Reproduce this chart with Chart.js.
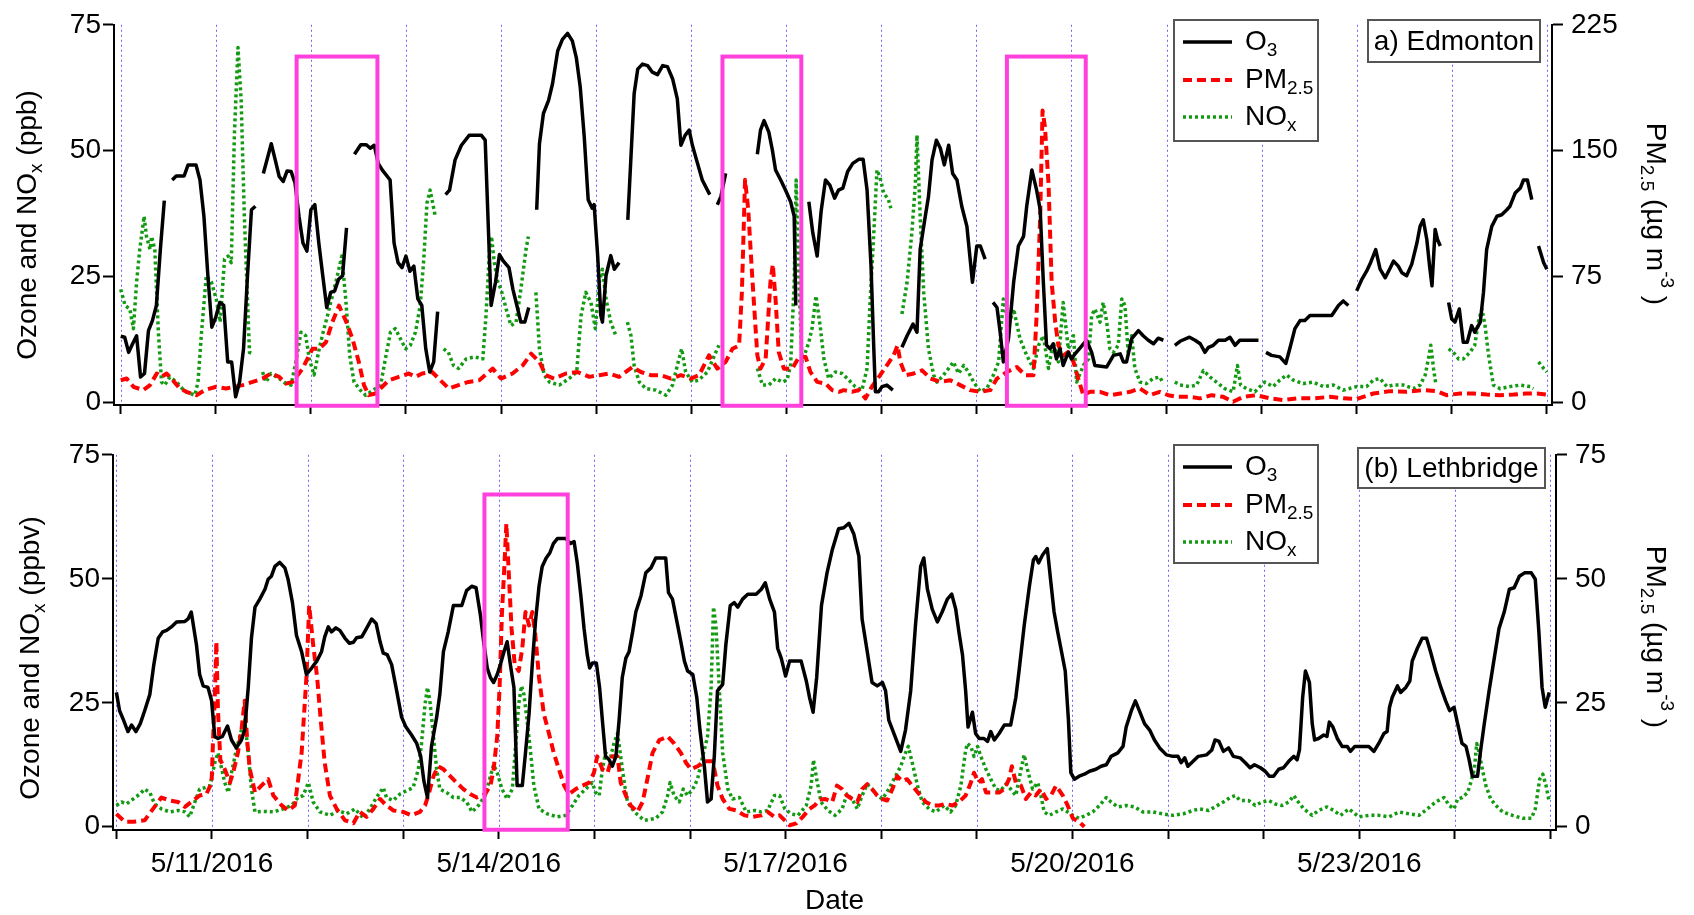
<!DOCTYPE html>
<html>
<head>
<meta charset="utf-8">
<script src="https://cdn.jsdelivr.net/npm/chart.js@4.4.0/dist/chart.umd.min.js"></script>
<style>
  body { margin: 0; background: #fff; }
  canvas { position: absolute; left: 0; }
  #top { top: 0; }
  #bottom { top: 430px; }
</style>
</head>
<body>
<canvas id="top" width="1694" height="430"></canvas>
<canvas id="bottom" width="1694" height="485"></canvas>
<script>
// hours since 5/10/2016 00:00
const dayTicks = [0, 24, 48, 72, 96, 120, 144, 168, 192, 216, 240, 264, 288, 312, 336, 360];
const dateLabels = { 24: '5/11/2016', 96: '5/14/2016', 168: '5/17/2016', 240: '5/20/2016', 312: '5/23/2016' };
const ppbTicks = [0, 25, 50, 75];
const pmTicksEdm = [0, 75, 150, 225];
const pmTicksLeth = [0, 25, 50, 75];

// highlighted periods (hours)
const highlightsEdm = [[44.4, 64.8], [151.9, 171.8], [223.7, 243.6]];
const highlightsLeth = [[92.4, 113.3]];

// a) Edmonton, [hour, value]; null = no data
const o3Edm = [
  [0,13.2],[1,13],[2,10],[3,11.7],[4,13.3],[5,5.1],[6,5.8],[7,14.3],[8,16.3],[9,19.3],[10,30.4],[11,40.1],[12,null],
  [13,44.2],[14,45],[16,45],[17,47.2],[19,47.2],[20,44.2],[21,37],[22,25.2],[23,15],[24,17],[25,19.9],[26,19.3],[27,8.1],[28,8.1],[29,1.2],[30,4.1],[31,10.7],[32,25.2],[33,38.3],[34,39],[35,null],
  [36,45.5],[38,51.4],[39,48.2],[40,44.9],[41,43.9],[42,46],[43,45.9],[44,43.6],[45,37],[46,31.7],[47,30.1],[48,38.3],[49,39.3],[50,31.7],[51,25.2],[52,18.9],[53,21.9],[54,22.2],[55,24.5],[56,25.2],[57,34.7],[58,null],
  [59,49.3],[60.6,51.2],[62,51.2],[63,50.5],[64,51.1],[65,47.5],[66,46.2],[68,44.2],[69,31.7],[70,27.8],[71,26.8],[72,29.1],[73,26.1],[74,27.1],[75,20.6],[76,19.3],[77,10.7],[78,6.1],[79,8.1],[80,18.1],[81,null],
  [82,41.3],[83,42.2],[84.4,48.2],[86,51.1],[88,53.1],[91,53.1],[92,52.1],[93,30.4],[93.5,19.3],[94.6,23.9],[95.6,29.4],[96.6,28.1],[98,26.8],[99,22.5],[100,19.3],[101,16],[102,16],[103,18.9],[104,null],
  [105,38.3],[105.7,51.4],[106.7,57.4],[108,60],[109,63.3],[110.3,69.8],[111.5,72.1],[112.8,73.3],[114,71.8],[115,68.5],[116,62.6],[117,52.8],[118,40.3],[119,38.6],[119.5,39.3],[120.4,29.1],[121.2,17.3],[121.6,16],[122.5,25.2],[123.7,29.2],[124.6,26.5],[125.8,27.8],[127,null],
  [128,36.3],[128.8,48.8],[129.6,61.3],[130.5,66.2],[131.7,67.2],[133,66.9],[134.2,65.6],[135.5,65.1],[136.8,66.9],[138,66.7],[139.3,64.3],[140.5,60.3],[141.4,51.1],[142.5,53.1],[143.5,54.1],[144.3,51.1],[145.6,47.5],[146.8,44.2],[148.1,42.2],[148.7,41.3],[149.5,null],
  [150.6,39.3],[151.5,40.9],[152.7,45.5],[153.5,null],
  [160.7,49.3],[161.5,54.1],[162.4,56],[163.6,53.7],[164.5,50.1],[165.3,46.2],[166.6,44.2],[167.8,42.2],[169.1,39.9],[170,37],[170.4,19.3],[171.5,null],
  [173.7,39.9],[174.7,33.7],[175.8,29.1],[176.8,38],[177.9,44.2],[179,43.2],[180.2,40.6],[181.2,42.2],[182.3,42.6],[183.5,45.9],[184.8,47.5],[186.3,48.3],[187.4,48.3],[188.4,42.2],[189.4,27.1],[190.1,10.7],[190.5,2.2],[191.3,2.2],[192.2,3.2],[193.4,3.5],[194.9,2.5],[196,null],
  [197.2,11],[198.5,13.3],[200,15.6],[201,14],[201.8,30.4],[203.1,37],[203.9,40.9],[204.8,48.2],[205.9,52.1],[206.9,50.5],[207.9,47.2],[209,51.1],[210,45.5],[211.1,44.2],[212.3,39],[213.6,35],[215,23.9],[216.1,31.1],[217,31.1],[218.2,28.5],[219,null],
  [220.2,19.9],[221.2,18.9],[222,14],[222.8,8.1],[224.1,12.7],[225.4,23.9],[226.6,31.1],[227.9,33],[228.7,39],[230,46.2],[231.2,42.2],[232.1,38.3],[232.9,23.9],[233.7,11.4],[234.6,10.7],[235.4,11.7],[236.2,8.7],[237.1,10.7],[237.9,7.4],[239.2,10],[240,8.7],[240.9,9.7],[242.3,11],[243.8,12.4],[245.1,10],[245.9,7.4],[248.9,7.1],[250.6,9.4],[252.3,9.7],[253.1,8.1],[253.9,8.1],[255.2,12.7],[256.9,14.3],[258.1,13.3],[259.4,12.4],[260.7,11.7],[261.9,12.8],[263.2,12.4],[264.5,null],
  [266.1,11.4],[267.4,12.2],[269.8,13],[271.2,12.4],[272.5,11.7],[273.7,10],[274.6,11],[275.8,11.4],[277.1,12.4],[278.8,12.4],[280,13],[281.3,11.4],[282.5,12.4],[287.2,12.4],[288.2,null],
  [289.1,10],[290.5,9.4],[292.6,9.1],[294.1,7.8],[295.2,11],[296.4,14.7],[297.7,16.3],[298.9,16.3],[300.2,17.3],[305.7,17.3],[307.4,19.3],[308.6,20.2],[309.9,19.3],[311,null],
  [312,22.2],[313.3,24.5],[314.5,26.1],[315.5,27.8],[316.8,30.4],[317.9,26.5],[319.2,24.8],[320.3,26.5],[321.3,28.1],[322.5,27.1],[323.4,25.8],[324.6,25.2],[325.9,27.5],[327.2,31.7],[328,35],[328.8,36.3],[329.7,32.4],[330.4,27.1],[331,23.2],[331.8,34.4],[332.4,32.4],[333.1,31.1],[334,null],
  [335.2,19.9],[336,16.6],[336.8,16],[337.9,18.6],[338.9,12],[339.9,12],[341,15.3],[341.8,14],[343.2,16],[344,21.9],[344.8,30.4],[346.1,35],[347.4,37],[348.6,37.3],[349.9,38.3],[350.7,39],[352,41.6],[353.3,42.6],[354.1,44.2],[355.1,44.2],[356.2,40.3],[357,null],
  [357.9,31.1],[359.2,27.8],[360,26.5]
];
const pmEdm = [
  [0,13.4],[1.5,14.4],[3.2,9.5],[5.7,7.5],[7.4,10.5],[9.1,17.4],[10.3,15.4],[11.6,17.4],[12.8,14.4],[14.9,8.5],[16.6,6.5],[19.1,4.5],[21.2,7.5],[24.1,9.5],[26.6,8.5],[28.7,9.5],[30.8,10.5],[33.3,12.4],[35.8,14.4],[37.9,17.4],[40,15.4],[41.7,11.4],[43.4,12.4],[45.9,20.3],[48.4,32.1],[50.1,32.1],[51.8,36],[53.4,47.9],[55.1,57.8],[56.8,48.9],[58.5,38],[60.1,24.3],[61.4,10.5],[62.6,4.5],[64.3,5.5],[66,9.5],[67.7,13.4],[70.2,15.4],[72.7,17.4],[74.4,15.4],[76.1,17.4],[78.6,18.3],[81.1,12.4],[82.8,8.5],[85.3,10.5],[87.8,12.4],[90.5,13.4],[93.9,20.3],[96,14.4],[98.9,17.4],[101.5,22.3],[103.6,29.2],[105.7,24.3],[107.3,16.4],[109.4,14.4],[112.4,17.4],[115.3,18.3],[118.3,15.4],[120.8,16.4],[123.3,17.4],[125.8,15.4],[129.2,21.3],[131.3,18.3],[133.8,16.4],[136.3,16.4],[138.9,14.4],[141.4,16.4],[143.9,14.4],[146,16.4],[148.5,28.2],[150.6,20.3],[152.7,24.3],[154.4,32.1],[156.1,34.1],[156.8,65.7],[157.6,132.7],[158.4,115],[159.4,75.5],[160.7,28.2],[161.5,20.3],[162.8,26.2],[164,71.6],[164.6,82.4],[165.3,61.7],[166.1,30.2],[167.4,20.3],[169.5,20.3],[171.2,27.2],[172.9,27.2],[174.1,18.3],[175.8,12.4],[177.9,11.4],[179.6,7.5],[181.3,6.5],[182.5,7.5],[184.6,6.5],[186.3,7.5],[188,2.6],[189.6,9.5],[191.7,16.4],[193.4,22.3],[195.1,28.2],[196.1,34.1],[196.8,24.3],[198.1,16.4],[200.2,17.4],[202.3,19.3],[204.4,14.4],[206.9,12.4],[209.4,13.4],[211.9,10.5],[214.4,7.5],[217,6.5],[219.5,7.5],[221.2,14.4],[223.7,18.3],[226.2,21.3],[228.3,16.4],[230.4,16.4],[231.2,51.9],[232.1,111],[232.7,174],[233.3,164.3],[234.2,130.7],[235,71.6],[235.9,47.9],[236.7,34.1],[238,28.2],[239.2,30.2],[240.5,24.3],[241.7,14.4],[243,4.5],[244.7,6.5],[247.2,6.5],[249.7,4.5],[252.3,5.5],[254.8,6.5],[257.3,8.5],[259.8,4.5],[262.3,6.5],[264.4,4.5],[266.5,3.5],[269.9,3.5],[272.4,2.6],[275.4,4.5],[278.3,3.5],[280.8,0.6],[283.4,3.5],[286.7,4.5],[290.1,2.6],[293.5,1.6],[296.8,2.6],[301,2.6],[305.3,3.5],[308.6,2.6],[312,2.2],[316.2,5.5],[320.4,6.9],[324.6,6.5],[328.8,7.5],[332.2,6.9],[334.7,4.5],[338.1,5.5],[341.5,5.5],[344.8,4.9],[348.2,4.5],[351.6,4.9],[354.9,5.5],[357.5,5.5],[360,4.9]
];
const noxEdm = [
  [0,22.5],[1.1,19.3],[2.3,18.6],[3.2,14.7],[4,23.9],[4.8,30.4],[5.9,37],[6.5,33],[7.4,30.4],[7.8,33],[8.6,30.4],[9.5,14],[10.3,4.1],[11.1,3.5],[12.4,5.1],[14.1,4.1],[16.2,2.2],[18.7,1.5],[19.5,4.1],[20.4,14],[21.6,25.2],[22.9,23.9],[24.1,20.6],[25.1,16],[26.2,28.5],[27.1,29.1],[27.9,27.8],[28.7,53.4],[29.6,70.5],[30.4,60],[31.2,37],[32.5,10],[33.3,9.7],[34.5,null],
  [35.8,6.1],[36.7,4.1],[37.9,5.8],[40,4.8],[41.7,3.8],[43,3.5],[44.2,8.1],[45.5,14],[46.7,13.3],[47.6,8.7],[48.8,5.5],[50.1,10.7],[51.1,14],[52.2,17.3],[53,19.9],[54.3,23.9],[55.8,29.1],[56.8,20.6],[57.8,9.4],[58.9,4.1],[60.5,2.5],[61.8,1.5],[64.3,2.8],[65.6,3.5],[66.8,8.7],[68.1,14],[69.3,14.7],[70.6,12.7],[71.9,10.7],[73.1,11.4],[74.4,14],[75.6,19.3],[76.5,28.5],[77.3,39.6],[78.1,42.2],[79.4,37],[80.5,null],
  [81.5,10.7],[82.7,10],[84,7.4],[85.3,6.8],[87.2,8.7],[89.3,9.1],[91.4,8.7],[92.2,17.3],[93.1,30.4],[93.6,33],[94.3,27.8],[95.2,23.9],[96,22.5],[97.3,18.6],[98.5,15.3],[99.8,16],[101,22.5],[102.3,30.4],[102.9,33],[104,null],
  [104.8,21.9],[105.7,10.7],[106.9,5.5],[108.2,4.1],[110.7,3.5],[113.2,4.8],[115.1,6.1],[116.2,17.3],[117.4,21.9],[118.7,19.9],[119.8,14.7],[120.8,23.9],[121.6,26.5],[122.5,20.6],[123.7,16],[125,13.3],[126.5,null],
  [127.9,16],[128.8,13.3],[129.6,7.4],[130.9,4.1],[132.6,2.8],[135.1,2.5],[137.6,1.5],[139.3,3.5],[140.9,8.7],[141.6,10.7],[142.6,6.1],[144.3,4.1],[145.9,4.5],[148.1,6.1],[150.2,10],[151,11.4],[152,null],
  [160.7,6.8],[162,3.5],[163.6,3.5],[165.3,4.8],[167,4.1],[168.2,4.5],[169.1,7.4],[170,23.9],[170.5,44.2],[171.2,23.9],[172,8.1],[173.7,12],[174.5,14.7],[175.5,21.2],[176.6,15],[177.5,8.7],[178.7,4.8],[180.4,6.1],[182.1,5.8],[183.8,4.5],[185.4,3.2],[187.1,2.5],[188.4,6.8],[189.2,20.6],[190.1,33.7],[190.9,46.2],[191.6,44.9],[192.6,41.6],[193.8,40.3],[194.4,38.6],[195.5,null],
  [197.2,17.6],[198.5,23.9],[199.7,33.7],[200.6,43.6],[201,53.1],[201.8,37],[202.7,21.9],[203.9,10.7],[205.2,5.5],[206,4.1],[207.3,5.1],[208.6,6.4],[210.2,8.1],[211.5,5.8],[212.8,7.4],[214,6.1],[215.3,4.1],[217,2.2],[218.6,2.8],[220.3,5.5],[221.6,8.1],[222.8,20.6],[224.1,15.3],[225.4,18.6],[227,12.7],[228.7,9.4],[230.4,6.8],[231.7,11.4],[232.9,13.3],[234.2,6.8],[235.4,12],[236.7,8.1],[237.9,19.9],[239.2,10.7],[240.5,13.3],[241.3,4.1],[243,7.4],[244.3,8.7],[245.1,17.3],[245.9,18.6],[247.2,16],[248,19.9],[248.9,16],[249.7,10.7],[250.6,10],[251.8,11.4],[252.7,20.6],[253.5,19.3],[254.3,10],[255.2,13.3],[256,6.8],[257.3,4.1],[258.9,3.8],[260.6,4.8],[262.3,5.1],[263.2,3.8],[264.5,null],
  [266.1,4.1],[267.4,3.5],[269.9,3.2],[271.6,3.5],[273.3,6.4],[275,5.1],[276.6,4.1],[278.7,2.8],[280.8,2.2],[281.9,7.4],[282.7,3.5],[284.2,2.8],[286.3,2.2],[288.8,4.1],[290.9,3.2],[292.6,4.5],[294.3,5.5],[296,4.5],[298.5,3.8],[301,4.1],[303.6,3.2],[306.1,3.5],[308.6,2.5],[312,3.2],[314.5,3.2],[316.2,4.5],[317.9,4.8],[319.6,3.2],[321.3,3.5],[323.8,3.5],[326.3,2.8],[328,3.5],[329.3,5.5],[330.1,8.7],[330.7,11.4],[331.4,6.8],[332,3.5],[333.5,null],
  [335.2,10.7],[336.4,10],[337.7,8.7],[338.9,8.7],[340.6,10],[341.8,11.4],[342.7,16],[343.6,18.6],[344.4,15.3],[345.3,9.4],[346.5,3.5],[348.2,2.8],[350.7,3.2],[353.3,3.5],[355.8,3.2],[356.6,2.8],[357.2,null],
  [357.9,8.1],[359.2,6.8],[360,6.1]
];

// (b) Lethbridge
const o3Leth = [
  [0,27.1],[0.8,23.4],[1.8,21.5],[2.9,19.2],[3.8,20.5],[4.9,19.2],[6,20.8],[7.1,23.4],[8.4,26.7],[9.4,32.7],[10.5,38],[11.6,39.3],[12.6,39.6],[13.8,40.3],[15.1,41.3],[17.2,41.4],[18,41.9],[18.8,43.3],[20.1,36.7],[20.9,30.7],[21.8,28.4],[23,28.1],[23.9,25.4],[24.7,18.2],[25.5,17.8],[26.6,18.2],[27.9,20.3],[28.9,17.5],[30.1,15.9],[31.4,17.5],[32.2,19.5],[33.1,28.1],[33.9,38],[34.8,44.3],[36,45.9],[37.3,47.9],[38.1,49.9],[38.9,50.5],[39.8,52.5],[41,53.3],[42.3,52.2],[43.1,49.9],[44.2,45.2],[45.2,38.6],[46.5,35.3],[47.7,30.7],[49,32],[50.3,33.4],[51.5,35.3],[52.3,38.3],[53.2,40.3],[54,39.3],[55.1,40.1],[56.1,39.6],[57.4,38],[58.5,37],[59.5,37.2],[60.3,38.1],[61.6,38.3],[62.8,40],[64.1,41.9],[65.2,41],[66.2,37.3],[67,35],[68,34.7],[69.1,32.7],[70.2,28.1],[71.6,22.1],[72.7,20.1],[74.1,18.5],[75.4,16.8],[76.4,14.2],[77.2,9.2],[78.1,5.9],[79.1,16.2],[80.4,22.1],[81.2,26.7],[82.1,35.3],[83.3,39.3],[84.6,44.6],[86.7,44.6],[87.9,47.6],[89.2,48.5],[90.3,48.2],[91.4,42.6],[92.2,37.3],[93.1,32],[93.9,30.1],[94.7,29.1],[95.6,30.7],[96.4,32.7],[97.3,35.3],[98.1,37.3],[98.9,32.7],[99.8,28.1],[100.6,8.3],[101.9,8.3],[102.7,14.9],[103.6,22.8],[104.4,32.7],[105.2,41.3],[106.1,48.5],[106.9,52.5],[107.9,54.2],[108.8,55.2],[109.7,57.1],[110.7,58.1],[112.8,58.1],[114,57.1],[114.9,57.5],[115.7,53.2],[116.6,46.6],[117.4,40],[118.2,34.7],[118.8,32],[119.5,33],[120.5,33],[121.3,28.1],[122,21.5],[122.8,14.2],[123.7,13.5],[124.5,12.2],[125.4,14.2],[126.2,21.5],[127,30.1],[127.9,34],[128.7,35.3],[129.6,39.3],[130.4,43.3],[131.7,46.6],[132.9,51.2],[134.2,52.2],[135.4,54.2],[137.9,54.2],[138.6,47.2],[139.6,45.9],[140.9,40.6],[141.7,37.3],[142.6,33.4],[143.4,31.4],[144.7,30.7],[145.7,26.1],[146.5,19.5],[147.6,12.2],[148.4,5],[149.3,5.6],[150.1,14.2],[150.9,27.4],[152.2,28.7],[153,36.7],[154.1,44.6],[155.1,45.2],[156,44.3],[157.2,45.9],[158.5,46.9],[160.6,46.9],[161.9,47.9],[162.9,49.2],[164,45.9],[165.2,43.3],[166,36],[166.9,34],[168,30.4],[169,33.4],[171.9,33.4],[173.2,29.4],[174,26.1],[174.9,23.1],[175.8,30.1],[177,44.6],[178.4,51.2],[179.7,55.8],[181.3,60.1],[182.6,60.3],[183.9,61.2],[185.1,59.1],[186.4,54.5],[187.2,41.9],[188.5,35.3],[189.7,29.1],[191,28.4],[192.3,29.1],[193.1,27.4],[193.9,21.5],[195.2,18.8],[196.9,15.2],[198.1,19.5],[199.4,27.4],[200.6,40.6],[201.9,52.5],[202.7,54.2],[203.6,47.9],[204.8,43.9],[206.1,41.3],[207.3,43.3],[208.6,45.9],[209.7,46.9],[210.7,43.9],[211.5,39.3],[212.4,34.7],[213.2,27.4],[213.8,20.1],[214.3,21.5],[214.9,23.1],[215.7,18.8],[216.6,17.8],[217.8,17.8],[218.7,17.2],[219.5,19.2],[220.4,17.5],[221.6,18.8],[222.9,20.5],[224.5,20.5],[225.8,26.1],[226.6,31.4],[227.9,40.6],[229.2,48.5],[230.2,53.8],[230.8,54.5],[231.5,53.2],[232.5,54.8],[233.7,56.1],[234.6,49.2],[235.4,43.3],[236.3,39.3],[237.1,36],[238.2,31.4],[239,21.5],[239.6,10.9],[240.5,9.6],[241.7,10.2],[243,10.6],[244.3,11.2],[245.9,11.6],[247.2,12.2],[248.5,12.5],[249.7,14.2],[251.4,14.9],[252.7,16.2],[253.5,20.1],[254.8,23.4],[255.8,25.4],[256.8,23.4],[258.1,20.8],[259.4,19.5],[260.6,17.5],[261.9,15.9],[263.6,14.5],[265.2,14.2],[266.5,14.2],[267.3,12.9],[268.2,13.9],[269,12.2],[270.3,13.2],[271.6,14.2],[273.7,14.5],[275,15.5],[275.8,17.5],[276.8,17.2],[277.9,15.2],[279.2,15.9],[280.4,14.2],[282.1,13.9],[283.4,12.9],[284.6,11.9],[285.7,12.5],[287.2,11.9],[288.4,11.2],[289.4,10.2],[290.5,10.2],[291.8,11.6],[293,11.9],[294.3,13.2],[295.6,14.2],[296.4,13.5],[297,15.5],[297.8,26.1],[298.5,31.4],[299.5,29.1],[300.2,20.8],[300.8,17.5],[301.8,17.8],[303.1,18.5],[303.9,18.2],[304.5,21.1],[305.4,20.1],[306.5,17.8],[307.7,16.2],[309,16.2],[309.8,15.2],[310.9,16.2],[314.4,16.2],[315.7,15.2],[316.9,16.8],[318.2,18.8],[319,19.2],[319.6,24.1],[320.3,26.1],[321.6,28.4],[322.4,27.1],[323.7,28.1],[324.7,29.4],[325.3,33.4],[326.6,36],[327.8,38],[328.9,38],[329.9,35.3],[331.2,31.4],[332.5,28.1],[333.7,25.4],[334.7,23.4],[335.8,24.1],[336.7,20.8],[337.8,16.8],[338.8,16.2],[339.6,13.5],[340.4,10.2],[341.7,10.2],[342.5,15.5],[343.4,20.8],[344.6,27.4],[345.9,34],[347.1,40],[348.4,43.3],[349.7,47.9],[350.9,48.2],[352.2,50.5],[353.5,51.2],[355.2,51.2],[356.2,49.9],[357.1,39.3],[357.9,28.1],[358.7,24.1],[359.7,27.1]
];
const pmLeth = [
  [0,2.6],[2.1,1],[4.2,1],[7.1,1.3],[9.2,3.6],[11.3,5.9],[13.4,5.3],[15.5,5],[17.2,4],[18.8,5],[20.9,6.3],[22.6,6.6],[23.9,8.9],[24.3,18.2],[24.7,26.1],[25.1,37.3],[25.5,23.4],[26.1,13.5],[27.2,11.6],[28.5,8.9],[29.3,10.9],[30.5,14.9],[31.4,19.5],[32.2,25.4],[32.9,16.8],[33.5,11.6],[34.8,6.9],[36.4,8.3],[38.1,9.6],[39.4,6.3],[41.5,4.3],[43.1,3.3],[44.8,4.3],[46.5,14.9],[47.7,30.1],[48.4,44.6],[49.4,36.7],[50.4,30.1],[51.3,21.5],[52.3,12.9],[53.6,6.3],[55.3,3.6],[57.4,1.3],[59.5,0.7],[61.1,3],[62.8,2],[64.5,3.6],[66.2,5.6],[67.8,4.3],[69.5,3.3],[72,3],[74.1,2.3],[76.2,3],[77.5,4.3],[78.3,6.3],[79.6,10.2],[80.8,12.2],[82.1,11.6],[83.8,10.2],[85.4,8.9],[87.1,7.6],[88.8,6.6],[90.5,5.9],[92.6,6.6],[93.9,8.3],[94.7,11.6],[95.6,18.2],[96.2,28.1],[96.8,43.3],[97.4,52.5],[97.9,61.1],[98.5,51.2],[99.2,40],[100,32.7],[101,31.4],[101.9,36],[102.7,43.3],[103.6,40.6],[104.4,43.3],[105.1,39.3],[106.1,30.1],[107.3,22.8],[108.6,18.8],[109.8,14.9],[111.1,11.6],[112.4,8.3],[113.6,6.6],[115.3,7.6],[117,8.3],[118.7,8.9],[119.9,10.9],[120.7,14.2],[122,11.6],[123.3,10.9],[124.5,14.2],[125.8,14.2],[126.6,8.9],[127.9,6.3],[129.1,4.3],[130.8,3],[132.1,5],[133.3,9.6],[134.6,14.9],[136.3,17.5],[138.4,18.2],[140,16.8],[141.7,14.9],[143,12.9],[144.2,11.6],[145.9,12.2],[147.6,13.2],[149.7,13.2],[150.9,8.3],[152.2,5.6],[153.9,3.6],[155.6,3.3],[157.7,2.3],[159.8,2],[161.9,2.3],[163.5,3],[165.2,2],[166.5,2.3],[167.8,1.3],[169,0.3],[170.7,0.7],[172.3,2],[174,3.6],[175.3,4.3],[176.5,5.5],[178,5.6],[179.7,5],[180.9,8.3],[182.2,7.6],[183.4,6.3],[184.7,5.6],[186,5],[187.2,7.6],[188.5,8.6],[189.7,7.6],[191,6.3],[192.3,5.6],[193.5,5.3],[194.8,7.6],[196,10.2],[197.3,9.2],[198.5,9.6],[199.8,8.3],[201.5,6.6],[203.2,5],[204.8,4.3],[206.5,4.3],[208.2,4.6],[209.9,4.3],[211.5,5],[213.2,6.3],[214.5,8.9],[215.3,10.9],[216.4,8.9],[217.3,9.6],[218.3,6.9],[219.9,6.9],[221.6,6.9],[222.9,7.6],[224.1,9.6],[224.8,12.2],[225.8,8.9],[227.1,8.3],[228.3,5.6],[229.6,6.9],[230.8,6.3],[232.1,7.6],[233.4,5.6],[234.6,6.3],[235.9,8.3],[237.6,6.3],[238.8,4.3],[240.1,1.7],[241.7,1],[243,0]
];
const noxLeth = [
  [0,4.3],[1.3,5],[2.5,4.6],[4.2,5.6],[5.9,6.6],[7.1,7.6],[8.4,6.9],[9.6,4.6],[11.3,3.6],[13.4,3],[15.5,3.3],[17.2,3],[18.4,2],[19.7,5],[20.9,7.6],[22.2,7.9],[23.5,8.3],[24.7,12.9],[25.5,14.9],[26.3,12.2],[27.2,8.9],[28.1,6.9],[28.9,10.9],[30.1,15.5],[31.4,19.5],[32.2,21.5],[33.1,14.9],[33.9,7.6],[34.8,3],[36.9,3.1],[39.4,3],[41.9,3.6],[44,4.3],[45.6,5.9],[46.9,6.3],[48.2,8.9],[49.4,5],[51.1,3],[53.6,2.3],[55.7,3.3],[57.8,2.6],[59.9,3.6],[62,1.7],[63.6,3.6],[65.3,5.9],[67,7.9],[67.8,5.9],[69.5,5.3],[71.2,6.6],[72.9,7.3],[74.5,7.9],[75.8,11.6],[76.6,16.8],[77.5,24.8],[78.1,28.1],[78.7,25.4],[79.6,18.2],[80.4,11.6],[81.2,7.6],[82.9,6.9],[84.6,5.9],[86.3,5.9],[87.9,5],[89.3,3],[90.9,4.3],[92.6,6.3],[93.9,10.2],[94.7,12.5],[95.6,10.9],[96.8,7.6],[98.1,5.6],[99.4,7.6],[100.4,18.2],[101,24.8],[101.7,28.4],[102.3,26.7],[103.1,21.5],[104,14.9],[104.8,8.3],[106.1,3.6],[108.2,2.6],[110.7,2],[112.8,2.3],[114.5,4.3],[116.1,6.3],[117.8,7.6],[119.5,8.9],[120.3,6.9],[121.2,6.3],[122,11.6],[122.8,14.9],[124.1,14.2],[124.9,16.8],[125.8,18.8],[126.6,14.2],[127.5,8.9],[128.3,5],[130,3],[132.5,1.3],[135.4,1.7],[137.1,3],[138.4,6.3],[139,8.9],[140,6.3],[141.3,5],[142.3,7.6],[143.4,6.3],[144.7,7.6],[145.9,9.6],[147.2,14.2],[148.4,18.2],[149.3,28.1],[149.9,44.3],[150.5,40.6],[151.2,30.1],[152.2,14.9],[153.5,7.6],[154.7,5.6],[156.4,5.9],[158.1,3],[160.2,3.3],[161.9,3],[163.5,3.3],[165.2,6.3],[166.5,6.3],[167.8,3.6],[169.4,2.6],[171.1,2.3],[173.2,4.3],[174.4,8.3],[175,13.5],[175.8,9.6],[176.9,5],[178.6,3.3],[180.4,2.3],[182.2,3.6],[183.4,6.6],[184.7,5.6],[186,3.6],[187.2,6.3],[188.5,8.6],[189.7,7.6],[191,6.3],[192.3,5.6],[193.9,7.6],[195.2,9.6],[196.9,12.2],[198.1,14.9],[198.8,16.2],[199.8,12.9],[201.1,8.3],[202.3,5],[204,3.6],[205.7,3],[207.8,4.3],[209.4,3],[210.7,4.3],[212,8.3],[213.1,14.9],[213.6,16.8],[214.5,16.2],[215.3,14.2],[216.2,16.2],[217,14.2],[218.3,11.6],[219.5,9.6],[220.8,7.6],[222,7.3],[223.3,8.6],[224.5,7.6],[225.8,6.3],[227.1,11.6],[227.9,14.5],[228.7,11.6],[230,7.6],[231.3,8.9],[232.1,6.3],[232.9,3],[234.2,2.3],[235.9,3],[237.6,3.6],[238.8,3],[240.1,2.3],[241.7,1.7],[243.4,2.3],[245.1,3],[246.8,4.3],[248.5,5.9],[249.7,5],[251.4,4],[253.5,4.3],[255.6,4],[257.7,3],[260.2,3],[262.7,2.6],[265.2,2.3],[267.8,2.6],[270.3,3.3],[272,3.6],[274.2,3.3],[275.8,4],[277.9,5],[279.6,5.9],[280.9,6.3],[282.1,5.3],[284.2,5.3],[285.9,4.3],[287.6,5],[289.3,5.3],[290.9,4.6],[292.6,4.3],[294.3,5],[295.6,6.3],[296.4,5.3],[298.1,3.6],[300.2,2.3],[301.8,3.3],[303.9,4],[305.6,3.3],[307.3,2.3],[309.4,3.6],[311.9,2],[314.4,2.3],[316.9,2.3],[319.5,2],[322,3],[324.5,2.6],[327,2.3],[329.1,3.6],[331.2,5],[333.3,5.9],[334.6,4.3],[335.8,3.6],[336.7,5.6],[337.9,5.9],[339.2,6.9],[340,8.9],[340.9,11.6],[341.5,16.8],[342.1,14.9],[342.9,11.6],[343.8,8.3],[345,5.6],[346.3,4.3],[348,3],[350.5,2.3],[353,1.7],[355.2,1.7],[356.2,3.6],[357.3,9.6],[358.1,10.6],[358.9,8.3],[359.7,5]
];

const FONT = "'Liberation Sans', Arial, sans-serif";
Chart.defaults.font.family = FONT;
Chart.defaults.font.size = 28;
Chart.defaults.color = '#000';

const O3_STYLE = { color: '#000000', width: 3.5, dash: [] };
const PM_STYLE = { color: '#ff0000', width: 4, dash: [9, 5] };
const NOX_STYLE = { color: '#139a13', width: 3.5, dash: [3, 3] };

// text with sub/superscripts: parts = [[text, 'sub'|'sup'|undefined], ...]
function drawRich(ctx, parts, x, y, align) {
  const big = '28px ' + FONT, small = '19px ' + FONT;
  let w = 0;
  parts.forEach(p => { ctx.font = p[1] ? small : big; w += ctx.measureText(p[0]).width; });
  let cx = align === 'center' ? x - w / 2 : x;
  ctx.textBaseline = 'middle';
  ctx.textAlign = 'left';
  ctx.fillStyle = '#000';
  parts.forEach(p => {
    ctx.font = p[1] ? small : big;
    const dy = p[1] === 'sub' ? 9 : (p[1] === 'sup' ? -11 : 0);
    ctx.fillText(p[0], cx, y + dy);
    cx += ctx.measureText(p[0]).width;
  });
}

function rotatedText(ctx, parts, x, y, angle) {
  ctx.save();
  ctx.translate(x, y);
  ctx.rotate(angle);
  drawRich(ctx, parts, 0, 0, 'center');
  ctx.restore();
}

function frame(ctx, x, y, w, h) {
  ctx.setLineDash([]);
  ctx.fillStyle = '#fff';
  ctx.fillRect(x, y, w, h);
  ctx.strokeStyle = '#555';
  ctx.lineWidth = 2;
  ctx.strokeRect(x, y, w, h);
}

const decor = {
  id: 'decor',
  beforeDatasetsDraw(chart, args, o) {
    const { ctx, chartArea: a, scales: { x } } = chart;
    ctx.save();
    ctx.strokeStyle = 'rgb(105,105,255)';
    ctx.lineWidth = 1;
    ctx.setLineDash([2, 3]);
    dayTicks.forEach(v => {
      const px = Math.round(x.getPixelForValue(v)) + 0.5;
      ctx.beginPath();
      ctx.moveTo(px, a.top);
      ctx.lineTo(px, a.bottom);
      ctx.stroke();
    });
    ctx.restore();
  },
  afterDatasetsDraw(chart, args, o) {
    const { ctx, scales: { x, y } } = chart;
    ctx.save();
    // highlighted periods
    ctx.strokeStyle = '#ff40dc';
    ctx.lineWidth = 4;
    ctx.setLineDash([]);
    o.boxes.forEach(([h0, h1]) => {
      const x0 = x.getPixelForValue(h0), x1 = x.getPixelForValue(h1);
      const y0 = y.getPixelForValue(o.boxTop), y1 = y.getPixelForValue(-0.6);
      ctx.strokeRect(x0, y0, x1 - x0, y1 - y0);
    });
    // legend
    const L = o.legend;
    frame(ctx, L.x, L.y, L.w, L.h);
    const rows = [
      [O3_STYLE, [['O'], ['3', 'sub']]],
      [PM_STYLE, [['PM'], ['2.5', 'sub']]],
      [NOX_STYLE, [['NO'], ['x', 'sub']]]
    ];
    rows.forEach(([st, parts], i) => {
      const ry = L.rows[i];
      ctx.strokeStyle = st.color;
      ctx.lineWidth = st.width;
      ctx.setLineDash(st.dash);
      ctx.beginPath();
      ctx.moveTo(L.x + 9, ry);
      ctx.lineTo(L.x + 58, ry);
      ctx.stroke();
      drawRich(ctx, parts, L.x + 71, ry, 'left');
    });
    // panel label
    const P = o.panel;
    frame(ctx, P.x, P.y, P.w, P.h);
    drawRich(ctx, [[P.text]], P.x + P.w / 2, P.y + P.h / 2 + 1, 'center');
    // axis titles
    rotatedText(ctx, o.leftTitle.parts, o.leftTitle.x, o.leftTitle.y, -Math.PI / 2);
    rotatedText(ctx, [['PM'], ['2.5', 'sub'], [' (\u00b5g m'], ['-3', 'sup'], [' )']], o.rightTitle.x, o.rightTitle.y, Math.PI / 2);
    ctx.restore();
  }
};

function series(o3, pm, nox) {
  const ds = (label, data, st, axis, order) => ({
    label, data, yAxisID: axis, order,
    borderColor: st.color, borderWidth: st.width, borderDash: st.dash,
    borderJoinStyle: 'round', pointRadius: 0, fill: false, spanGaps: false, tension: 0
  });
  return [
    ds('O3', o3, O3_STYLE, 'y', 0),
    ds('PM2.5', pm, PM_STYLE, 'y2', 1),
    ds('NOx', nox, NOX_STYLE, 'y', 2)
  ];
}

function axisTicks(len) {
  return { display: true, drawOnChartArea: false, drawTicks: true, tickLength: len, tickWidth: 2, tickColor: '#000' };
}

function makeChart(id, cfg) {
  return new Chart(document.getElementById(id), {
    type: 'line',
    data: { datasets: series(cfg.o3, cfg.pm, cfg.nox) },
    options: {
      responsive: false,
      animation: false,
      devicePixelRatio: 1,
      layout: { padding: { top: cfg.padTop, left: 0, right: 0, bottom: 0 } },
      plugins: {
        legend: { display: false },
        tooltip: { enabled: false },
        decor: cfg.decor
      },
      scales: {
        x: {
          type: 'linear', position: 'bottom', min: cfg.xMin, max: cfg.xMax,
          afterBuildTicks: s => { s.ticks = dayTicks.map(v => ({ value: v })); },
          afterFit: s => { s.height = cfg.xHeight; },
          grid: axisTicks(9),
          border: { display: true, color: '#000', width: 2 },
          ticks: { autoSkip: false, maxRotation: 0, padding: 8, callback: v => cfg.dates ? (dateLabels[v] || '') : '' },
          title: { display: cfg.dates, text: 'Date', font: { size: 28, lineHeight: 1 }, padding: { top: 0, bottom: 0 } }
        },
        y: {
          position: 'left', min: cfg.yMin, max: 75,
          afterBuildTicks: s => { s.ticks = ppbTicks.map(v => ({ value: v })); },
          afterFit: s => { s.width = cfg.left; },
          grid: axisTicks(11),
          border: { display: true, color: '#000', width: 2 },
          ticks: { padding: 2 }
        },
        y2: {
          position: 'right', min: cfg.yMin * cfg.pmMax / 75, max: cfg.pmMax,
          afterBuildTicks: s => { s.ticks = cfg.pmTicks.map(v => ({ value: v })); },
          afterFit: s => { s.width = 1694 - cfg.right; },
          grid: axisTicks(11),
          border: { display: true, color: '#000', width: 2 },
          ticks: { padding: 8 }
        }
      }
    },
    plugins: [decor]
  });
}

makeChart('top', {
  o3: o3Edm, pm: pmEdm, nox: noxEdm,
  padTop: 22, xHeight: 25, left: 114, right: 1552,
  xMin: -1.7, xMax: 361.3, yMin: -0.45, pmMax: 225, pmTicks: pmTicksEdm, dates: false,
  decor: {
    boxes: highlightsEdm, boxTop: 68.7,
    legend: { x: 1174, y: 20, w: 144, h: 121, rows: [42, 80, 117] },
    panel: { x: 1368, y: 20, w: 172, h: 42, text: 'a) Edmonton' },
    leftTitle: { x: 28, y: 225, parts: [['Ozone and NO'], ['x', 'sub'], [' (ppb)']] },
    rightTitle: { x: 1655, y: 214 }
  }
});

makeChart('bottom', {
  o3: o3Leth, pm: pmLeth, nox: noxLeth,
  padTop: 18, xHeight: 85, left: 113, right: 1556,
  xMin: -0.85, xMax: 361.4, yMin: -0.65, pmMax: 75, pmTicks: pmTicksLeth, dates: true,
  decor: {
    boxes: highlightsLeth, boxTop: 67,
    legend: { x: 1174, y: 15, w: 144, h: 118, rows: [37, 75, 112] },
    panel: { x: 1358, y: 18, w: 187, h: 40, text: '(b) Lethbridge' },
    leftTitle: { x: 31, y: 228, parts: [['Ozone and NO'], ['x', 'sub'], [' (ppbv)']] },
    rightTitle: { x: 1655, y: 207 }
  }
});
</script>
</body>
</html>
